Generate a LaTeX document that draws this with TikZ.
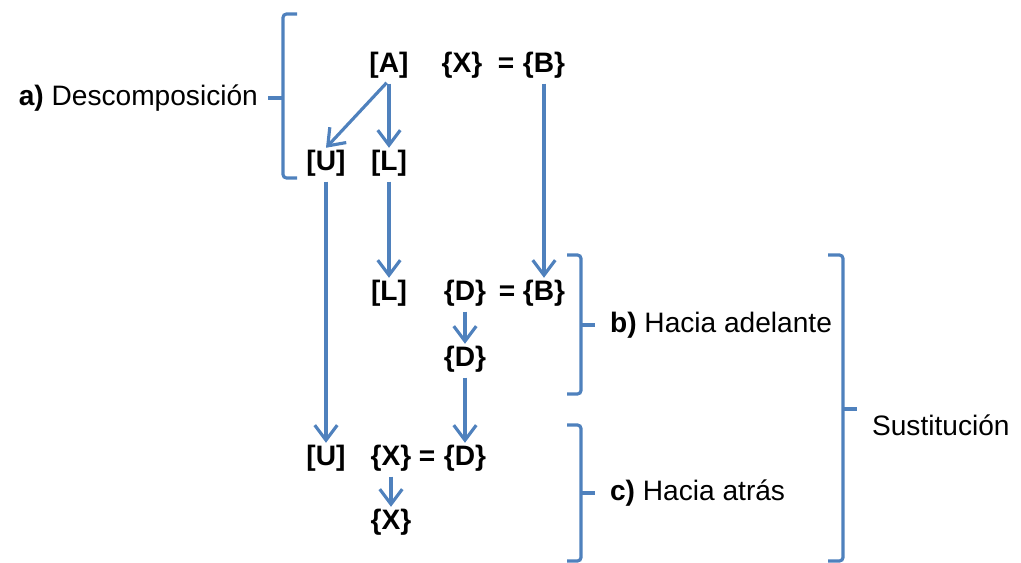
\documentclass[tikz,border=0pt]{standalone}
\usepackage{fontspec}
\setmainfont{Liberation Sans}
\usetikzlibrary{arrows.meta,positioning}
\definecolor{brblue}{RGB}{79,129,189}

\begin{document}
\begin{tikzpicture}[x=0.02cm,y=-0.02cm,
  every node/.style={font=\fontsize{16}{19}\selectfont,inner sep=1pt},
  term/.style={font=\fontsize{16}{19}\selectfont\bfseries},
  arr/.style={brblue,line width=1.8pt,shorten <=2pt,-{Straight Barb[length=3mm,width=4.5mm]}},
  brk/.style={brblue,line width=1.8pt,rounded corners=2pt}]
  \useasboundingbox (0,0) rectangle (1021,563);

  % Top row: decomposition of the matrix and the system
  \node[term] (A) at (389,65) {[A]};
  \node[term] (X1) at (462,65) {\{X\}};
  \node[term] (eq1) at (506,65) {=};
  \node[term] (B1) at (544,65) {\{B\}};
  \node[term] (U1) at (326,163) {[U]};
  \node[term] (L1) at (389,163) {[L]};

  % Forward substitution
  \node[term] (L2) at (389,293) {[L]};
  \node[term] (D1) at (465,293) {\{D\}};
  \node[term] (eq2) at (507,293) {=};
  \node[term] (B2) at (544,293) {\{B\}};
  \node[term] (D2) at (465,359) {\{D\}};

  % Back substitution
  \node[term] (U2) at (326,458) {[U]};
  \node[term] (X2) at (391,458) {\{X\}};
  \node[term] (eq3) at (427,458) {=};
  \node[term] (D3) at (465,458) {\{D\}};
  \node[term] (X3) at (391,522) {\{X\}};

  % Arrows
  \draw[arr] (A.south) -- (U1.north);
  \draw[arr] (A.south) -- (L1.north);
  \draw[arr] (U1.south) -- (U2.north);
  \draw[arr] (L1.south) -- (L2.north);
  \draw[arr] (B1.south) -- (B2.north);
  \draw[arr] (D1.south) -- (D2.north);
  \draw[arr] (D2.south) -- (D3.north);
  \draw[arr] (X2.south) -- (X3.north);

  % Brackets
  \draw[brk] (297,14) -- (283,14) -- (283,178) -- (297,178);
  \draw[brk] (283,98) -- (268,98);
  \draw[brk] (567,255) -- (581,255) -- (581,394) -- (567,394);
  \draw[brk] (581,325) -- (595,325);
  \draw[brk] (567,425) -- (581,425) -- (581,561) -- (567,561);
  \draw[brk] (581,493) -- (595,493);
  \draw[brk] (828,255) -- (843,255) -- (843,561) -- (828,561);
  \draw[brk] (843,409) -- (857,409);

  % Labels
  \node[anchor=east] (labA) at (260,98) {\textbf{a)} Descomposición};
  \node[anchor=west] (labB) at (608,325) {\textbf{b)} Hacia adelante};
  \node[anchor=west] (labC) at (608,493) {\textbf{c)} Hacia atrás};
  \node[anchor=west] (labS) at (870,425) {Sustitución};
\end{tikzpicture}
\end{document}
